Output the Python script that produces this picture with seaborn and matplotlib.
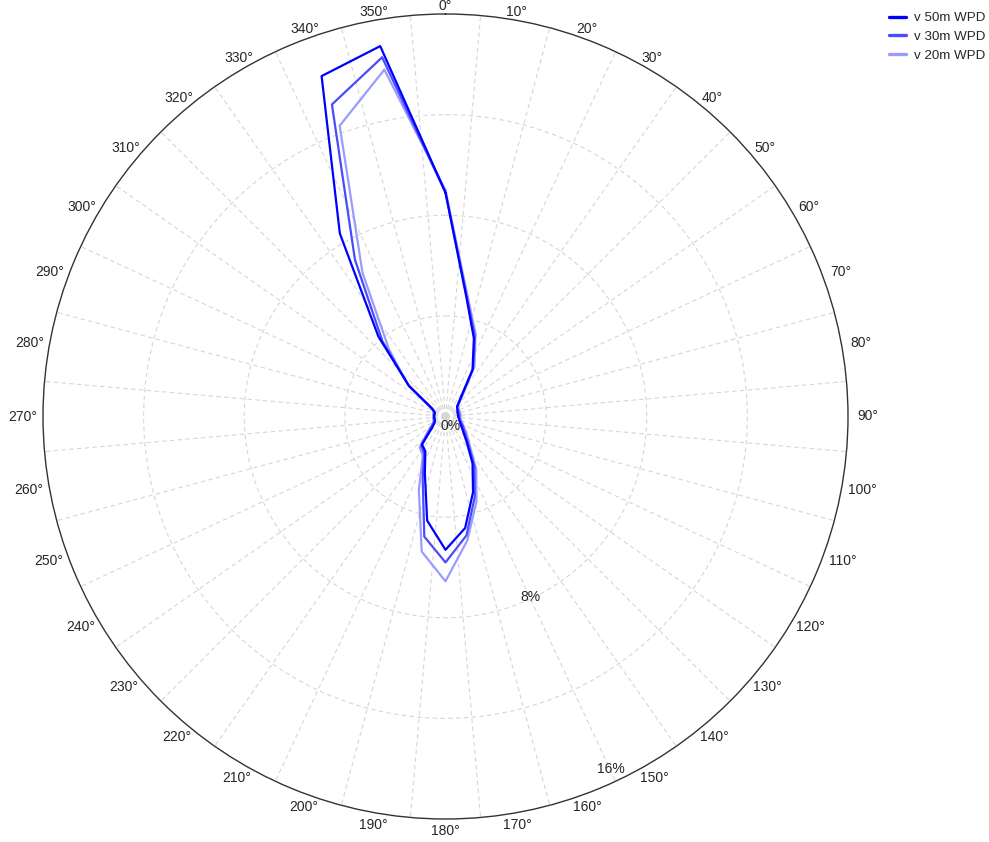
import numpy as np
import pandas as pd
import matplotlib
matplotlib.use("Agg")
import matplotlib.pyplot as plt
from matplotlib.lines import Line2D
import seaborn as sns

# Wind power density share (%) per 10-degree direction sector
directions = list(range(0, 360, 10))
wpd_50m = [8.9, 4.8, 3.3, 2.15, 0.9, 0.6, 0.55, 0.5, 0.5, 0.5, 0.55, 0.6,
           0.72, 0.91, 1.3, 2.15, 3.2, 4.5, 5.3, 4.2, 2.4, 1.6, 1.45, 0.7,
           0.5, 0.45, 0.45, 0.45, 0.45, 0.45, 0.6, 1.9, 4.15, 8.4, 14.4, 14.95]
wpd_30m = [8.9, 4.85, 3.4, 2.2, 0.95, 0.6, 0.55, 0.55, 0.55, 0.55, 0.55, 0.65,
           0.8, 1.0, 1.4, 2.3, 3.4, 4.8, 5.8, 4.85, 2.65, 1.7, 1.5, 0.8,
           0.55, 0.45, 0.45, 0.45, 0.45, 0.45, 0.6, 1.9, 3.9, 7.2, 13.2, 14.5]
wpd_20m = [9.0, 4.95, 3.5, 2.3, 1.0, 0.65, 0.6, 0.6, 0.6, 0.6, 0.6, 0.7,
           0.85, 1.1, 1.5, 2.45, 3.6, 5.0, 6.55, 5.45, 3.1, 1.8, 1.6, 0.9,
           0.6, 0.5, 0.5, 0.5, 0.5, 0.5, 0.65, 1.95, 3.5, 6.6, 12.3, 14.0]

series_names = ["v 50m WPD", "v 30m WPD", "v 20m WPD"]
series_colors = ["#0000FF", "#4A4AFF", "#9B9BFF"]
ring_values = [4, 8, 12]
r_max = 16
radial_labels = ["0%", "8%", "16%"]
radial_label_pos = [(150.3, 0.43), (154.8, 7.91), (154.85, 15.48)]

sns.set_style("white")
plt.rcParams["font.family"] = ["Liberation Sans", "DejaVu Sans"]

# long-form table, each rose closed back onto its first direction
rows = []
for name, vals in zip(series_names, [wpd_50m, wpd_30m, wpd_20m]):
    for d, v in zip(directions + [360], vals + [vals[0]]):
        rows.append({"theta": np.deg2rad(d), "wpd": v, "series": name})
df = pd.DataFrame(rows)

W, H = 989, 842
fig = plt.figure(figsize=(W / 100, H / 100), dpi=100)
cx, cy, R = 445.5, 416.5, 402.5
ax = fig.add_axes([(cx - R) / W, (H - cy - R) / H, 2 * R / W, 2 * R / H],
                  projection="polar")
ax.set_theta_zero_location("N")
ax.set_theta_direction(-1)

draw_order = series_names[::-1]
palette = dict(zip(series_names, series_colors))
sns.lineplot(data=df, x="theta", y="wpd", hue="series", hue_order=draw_order,
             palette=palette, sort=False, estimator=None, linewidth=1.6,
             legend=False, ax=ax)
ax.set_ylim(0, r_max)
ax.set_xlabel("")
ax.set_ylabel("")

# dashed rings and sector-boundary spokes
ax.set_yticks(ring_values)
ax.set_yticklabels([])
ax.set_xticks(np.deg2rad(np.arange(5, 360, 10)))
ax.set_xticklabels([])
ax.tick_params(length=0)
ax.grid(True, color="#d6d6d6", linestyle=(0, (4, 3)), linewidth=0.8)
ax.spines["polar"].set_color("#333333")
ax.spines["polar"].set_linewidth(1.0)

# direction labels just outside the rim
for d in directions:
    t = np.deg2rad(d)
    s, c = np.sin(t), np.cos(t)
    dist = 8.0 + 12.0 * s ** 2 + 4.0 * max(0.0, -c)   # pixels beyond the rim
    ax.annotate(f"{d}°", xy=(t, r_max),
                xytext=(dist * s * 0.72, dist * c * 0.72),
                textcoords="offset points", ha="center", va="center",
                fontsize=10, color="#262626", annotation_clip=False)

for lab, (ang, rv) in zip(radial_labels, radial_label_pos):
    ax.text(np.deg2rad(ang), rv, lab, ha="center", va="center",
            fontsize=10, color="#262626")

handles = [Line2D([], [], color=col, linewidth=2.4) for col in series_colors]
fig.legend(handles, series_names, loc="upper left",
           bbox_to_anchor=(889 / W, 1 - 12 / H), frameon=False,
           fontsize=9.6, handlelength=1.3, handletextpad=0.55,
           labelspacing=0.47, borderpad=0, borderaxespad=0)

fig.savefig("out.png", dpi=100, facecolor="white")
